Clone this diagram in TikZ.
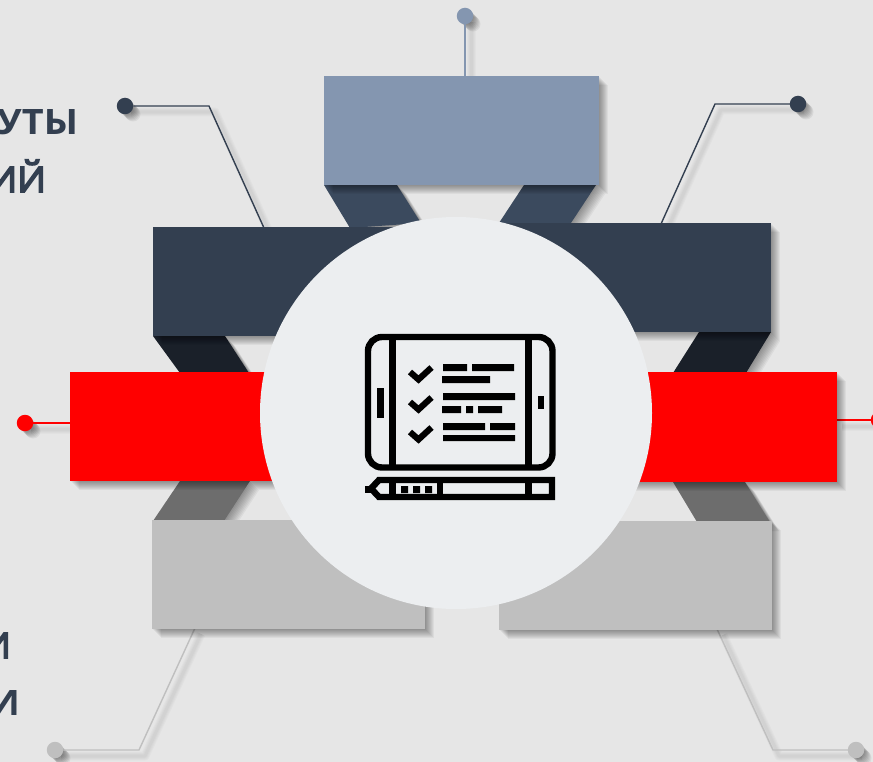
\documentclass[tikz,border=0pt]{standalone}
\usepackage{fontspec}
\setmainfont{Open Sans}
\newfontfamily\wideheavy[FakeStretch=1.08]{Open Sans}
\newfontfamily\widemedium[FakeStretch=1.08,FakeBold=4.5]{Open Sans}
\definecolor{bgc}{HTML}{E6E6E6}
\definecolor{steelc}{HTML}{8496B0}
\definecolor{slatec}{HTML}{3B4A5E}
\definecolor{navyc}{HTML}{333F50}
\definecolor{inkc}{HTML}{1A2029}
\definecolor{redc}{HTML}{FF0000}
\definecolor{midc}{HTML}{6D6D6D}
\definecolor{lightc}{HTML}{BFBFBF}
\definecolor{discc}{HTML}{ECEEF0}
\newcommand{\softfill}[1]{\foreach \k in {1,...,9}{\fill[black,opacity=.047,shift={(\k,\k)}] #1;}}
\newcommand{\softline}[1]{\begin{scope}[shift={(6,6)}]\foreach \w in {9,7,5,3}{\draw[black,opacity=.02,line width=\w pt,line join=round] #1;}\end{scope}}
\newcommand{\softdot}[1]{\foreach \k in {1,...,8}{\fill[black,opacity=.06,shift={(\k,\k)}] #1 circle (7.5pt);}}
\newcommand{\ribbon}[6]{\softfill{(#2,#3) rectangle (#4,#5)}
 \node[band,fill=#6,minimum width={#4pt-#2pt},minimum height={#5pt-#3pt}] (#1) at ({(#2+#4)/2},{(#3+#5)/2}) {};}
\newcommand{\leg}[9]{\softfill{(#1,#2) -- (#3,#4) -- (#5,#6) -- (#7,#8) -- cycle}
 \fill[#9] (#1,#2) -- (#3,#4) -- (#5,#6) -- (#7,#8) -- cycle;}
\tikzset{
 band/.style={rectangle,inner sep=0pt,outer sep=0pt,draw=none},
 pin/.style={circle,inner sep=0pt,outer sep=0pt,minimum size=16.5pt,fill=#1},
 wire/.style={draw=#1,line width=1.4pt,line join=round},
 thickwire/.style={draw=#1,line width=2.7pt,line join=round},
 icon/.style={draw=black,line width=6.4pt,line join=miter,fill=none},
 bar/.style={fill=black},
 tick/.style={draw=black,line width=6.2pt,line join=miter},
 heavy/.style={font=\wideheavy\bfseries\fontsize{35}{35}\selectfont,text=navyc,inner sep=0pt,outer sep=0pt,anchor=base east},
 medium/.style={font=\widemedium\fontsize{35}{35}\selectfont,text=navyc,inner sep=0pt,outer sep=0pt,anchor=base east}
}
\begin{document}
\begin{tikzpicture}[x=1pt,y=-1pt]
\path[use as bounding box,fill=bgc] (0,0) rectangle (873,762);
% labels
\node[heavy] (t1) at (78,135) {УТЫ};
\node[medium] (t2) at (46,192) {ИЙ};
\node[medium] (t3) at (11,658) {И};
\node[heavy] (t4) at (20,715) {И};
% pins and bends
\coordinate (bTL) at (209,106); \coordinate (eTL) at (264,228);
\coordinate (bTR) at (715,104); \coordinate (eTR) at (661,224);
\coordinate (bBL) at (139,750); \coordinate (eBL) at (195,628);
\coordinate (bBR) at (773,750); \coordinate (eBR) at (717,629);
\coordinate (eTop) at (465,77); \coordinate (eRL) at (71,423); \coordinate (eRR) at (836,420);
\softline{(125,106) -- (209,106) -- (264,228)}
\softline{(798,104) -- (715,104) -- (661,224)}
\softline{(55,750) -- (139,750) -- (195,628)}
\softline{(856,750) -- (773,750) -- (717,629)}
\softline{(25,423) -- (71,423)}
\softline{(836,420) -- (879,420)}
\softline{(465,16) -- (465,77)}
\softdot{(125,106)} \softdot{(798,104)}
\softdot{(55,750)} \softdot{(856,750)}
\softdot{(25,423)} \softdot{(879,420)}
\softdot{(465,16)}
\node[pin=steelc] (pTop) at (465,16) {};
\node[pin=navyc] (pTL) at (125,106) {};
\node[pin=navyc] (pTR) at (798,104) {};
\node[pin=redc] (pRL) at (25,423) {};
\node[pin=redc] (pRR) at (879,420) {};
\node[pin=lightc] (pBL) at (55,750) {};
\node[pin=lightc] (pBR) at (856,750) {};
\draw[thickwire=steelc] (pTop) -- (eTop);
\draw[wire=navyc] (pTL) -- (bTL) -- (eTL);
\draw[wire=navyc] (pTR) -- (bTR) -- (eTR);
\draw[thickwire=redc] (pRL) -- (eRL);
\draw[thickwire=redc] (eRR) -- (pRR);
\draw[wire=lightc] (pBL) -- (bBL) -- (eBL);
\draw[wire=lightc] (pBR) -- (bBR) -- (eBR);
% legs
\leg{324}{185}{397}{185}{421}{223}{350}{228}{slatec}
\leg{524}{185}{596}{185}{571}{223}{499}{223}{slatec}
\leg{153}{336}{225}{336}{249}{373}{180}{373}{inkc}
\leg{699}{332}{771}{332}{746}{373}{673}{373}{inkc}
\leg{180}{481}{250}{481}{224}{521}{153}{521}{midc}
\leg{673}{482}{745}{482}{770}{522}{697}{522}{midc}
% bands
\ribbon{rTop}{324}{76}{599}{185}{steelc}
\ribbon{rNL}{153}{227}{430}{336}{navyc}
\ribbon{rNR}{500}{223}{771}{332}{navyc}
\ribbon{rGL}{152}{520}{425}{629}{lightc}
\ribbon{rGR}{499}{521}{772}{630}{lightc}
\ribbon{rRL}{70}{372}{340}{481}{redc}
\ribbon{rRR}{580}{372}{837}{482}{redc}
% disc
\node[circle,inner sep=0pt,outer sep=0pt,minimum size=392pt,fill=discc] (disc) at (456,413) {};
% tablet icon
\draw[icon] (368,337) [rounded corners=14pt] -- (552.5,337) -- (552.5,467.5) -- (368,467.5) -- cycle;
\draw[icon,line width=7pt] (392.5,337) -- (392.5,467.5) (528.5,337) -- (528.5,467.5);
\fill[bar] (377,388) rectangle (384,418);
\fill[bar] (538,396) rectangle (544,409);
\foreach \d in {0,30,60}{\draw[tick] (410,{372+\d}) -- (418.5,{379.5+\d}) -- (431.5,{367.5+\d});}
\fill[bar] (443,364) rectangle (467,371) (472,364) rectangle (514,371) (442,376) rectangle (490,383);
\fill[bar] (443,393) rectangle (515,400) (442,406) rectangle (461,413) (466,406) rectangle (473,413) (478,406) rectangle (502,413);
\fill[bar] (443,423) rectangle (485,430) (490,423) rectangle (515,430) (443,435) rectangle (515,441);
% pen
\draw[icon] (379,480) -- (552,480) -- (552,497) -- (379,497) -- (371,488.5) -- cycle;
\fill[bar] (365,486) rectangle (371,493);
\draw[icon,line width=6.5pt] (392.5,480) -- (392.5,497) (528.5,480) -- (528.5,497);
\draw[icon,line width=6pt] (440,480) -- (440,497);
\fill[bar] (401,486) rectangle (408,493) (413,486) rectangle (420,493) (425,486) rectangle (432,493);
\end{tikzpicture}
\end{document}
